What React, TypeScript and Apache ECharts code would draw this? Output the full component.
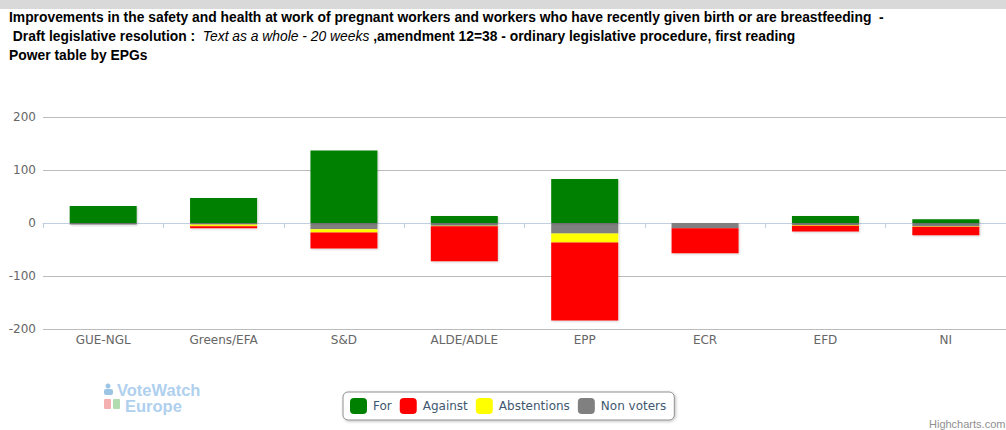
import React, { useEffect, useRef } from "react";
import * as echarts from "echarts";

const categories = ["GUE-NGL", "Greens/EFA", "S&D", "ALDE/ADLE", "EPP", "ECR", "EFD", "NI"];
const forVotes = [32, 47, 137, 13, 83, 0, 13, 7];
const againstVotes = [0, -4, -30, -66, -147, -47, -11, -16];
const abstentions = [0, -3, -6, -1, -17, 0, -1, -1];
const nonVoters = [-3, -3, -12, -5, -20, -10, -4, -6];
const yTicks = { min: -200, max: 200, interval: 100 };

const titleLine1 =
  "Improvements in the safety and health at work of pregnant workers and workers who have recently given birth or are breastfeeding  -";
const titleLine2a = " Draft legislative resolution :  ";
const titleLine2b = "Text as a whole - 20 weeks";
const titleLine2c = " ,amendment 12=38 - ordinary legislative procedure, first reading";
const titleLine3 = "Power table by EPGs";

const COLORS = { For: "#008000", Against: "#FF0000", Abstentions: "#FFFF00", "Non voters": "#808080" };

export default function App() {
  const ref = useRef<HTMLDivElement>(null);
  useEffect(() => {
    document.body.style.margin = "0";
    const chart = echarts.init(ref.current!, null, { renderer: "svg" });
    const barStyle = (c: string) => ({
      color: c,
      shadowColor: "rgba(0,0,0,0.18)",
      shadowBlur: 2,
      shadowOffsetX: 1,
      shadowOffsetY: 1,
    });
    const mk = (name: string, data: number[]) => ({
      name,
      type: "bar",
      stack: "votes",
      data,
      barWidth: 67,
      itemStyle: barStyle((COLORS as any)[name]),
      emphasis: { disabled: true },
    });
    const font = "'Liberation Sans', Arial, Helvetica, sans-serif";
    const tf = 13.85;
    chart.setOption({
      animation: false,
      backgroundColor: "#ffffff",
      grid: { left: 43, right: 0, top: 117, bottom: 101, containLabel: false },
      xAxis: {
        type: "category",
        data: categories,
        axisLine: { show: true, lineStyle: { color: "#C0D0E0", width: 1 } },
        axisTick: { show: true, length: 5, lineStyle: { color: "#C0D0E0" } },
        axisLabel: { color: "#666666", fontSize: 12, fontFamily: "'DejaVu Sans', sans-serif", margin: 5 },
        splitLine: { show: false },
      },
      yAxis: {
        type: "value",
        min: yTicks.min,
        max: yTicks.max,
        interval: yTicks.interval,
        axisLine: { show: false },
        axisTick: { show: false },
        axisLabel: { color: "#666666", fontSize: 12, fontFamily: "'DejaVu Sans', sans-serif", margin: 7 },
        splitLine: { show: true, lineStyle: { color: "#BBBBBB", width: 1 } },
      },
      legend: {
        data: ["For", "Against", "Abstentions", "Non voters"],
        left: 343,
        top: 392,
        icon: "roundRect",
        itemWidth: 17,
        itemHeight: 16,
        itemGap: 8,
        padding: [6, 8, 6, 7],
        backgroundColor: "#ffffff",
        borderColor: "#909090",
        borderWidth: 1,
        borderRadius: 5,
        shadowColor: "rgba(0,0,0,0.25)",
        shadowBlur: 3,
        shadowOffsetX: 1,
        shadowOffsetY: 1,
        textStyle: { color: "#3E576F", fontSize: 12, fontFamily: "'DejaVu Sans', sans-serif", padding: [0, 0, 0, 1] },
      },
      series: [
        mk("Non voters", nonVoters),
        mk("Abstentions", abstentions),
        mk("Against", againstVotes),
        mk("For", forVotes),
      ],
      graphic: [
        { type: "rect", left: 0, top: 0, shape: { width: 1006, height: 9 }, style: { fill: "#D9D9D9" } },
        {
          type: "text",
          left: 9,
          top: 10,
          style: { text: titleLine1, font: `bold ${tf}px ${font}`, fill: "#000" },
        },
        {
          type: "text",
          left: 9,
          top: 29,
          style: {
            text: `{b|${titleLine2a}}{i|${titleLine2b}}{b|${titleLine2c}}`,
            rich: {
              b: { font: `bold ${tf}px ${font}`, fill: "#000" },
              i: { font: `italic ${tf}px ${font}`, fill: "#000" },
            },
          },
        },
        {
          type: "text",
          left: 9,
          top: 48,
          style: { text: titleLine3, font: `bold ${tf}px ${font}`, fill: "#000" },
        },
        // VoteWatch logo (faded)
        { type: "circle", shape: { cx: 108, cy: 386, r: 2.5 }, style: { fill: "#9cc4e4" } },
        { type: "rect", left: 104, top: 389, shape: { width: 9, height: 6, r: 2 }, style: { fill: "#9cc4e4" } },
        { type: "rect", left: 104, top: 399, shape: { width: 7, height: 10, r: 1 }, style: { fill: "#f4b0b0" } },
        { type: "rect", left: 113, top: 399, shape: { width: 7, height: 10, r: 1 }, style: { fill: "#b0dcb0" } },
        {
          type: "text",
          left: 117,
          top: 381,
          style: { text: "VoteWatch", font: `bold 16.5px ${font}`, fill: "#afd0ee", lineHeight: 15 },
        },
        {
          type: "text",
          left: 125,
          top: 397,
          style: { text: "Europe", font: `bold 16.5px ${font}`, fill: "#afd0ee", lineHeight: 15 },
        },
        {
          type: "text",
          left: 929,
          top: 418,
          style: { text: "Highcharts.com", font: `11px ${font}`, fill: "#909090", lineHeight: 12 },
        },
      ],
    });
    return () => chart.dispose();
  }, []);
  return <div ref={ref} style={{ width: 1006, height: 430, position: "absolute", left: 0, top: 0 }} />;
}
